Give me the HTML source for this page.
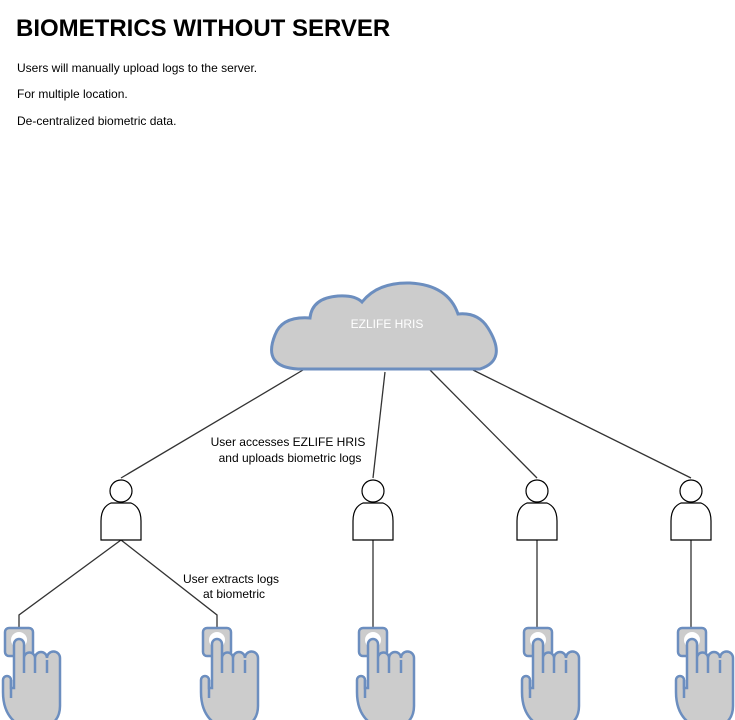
<!DOCTYPE html>
<html><head><style>
body{margin:0;width:735px;height:720px;overflow:hidden;background:#fff;font-family:"Liberation Sans",Arial,sans-serif;position:relative}
.t{position:absolute;left:17px;font-size:12px;color:#000}
</style></head><body>
<div style="position:absolute;left:16px;top:15px;font-size:24px;font-weight:bold">BIOMETRICS WITHOUT SERVER</div>
<div class="t" style="top:61px">Users will manually upload logs to the server.</div>
<div class="t" style="top:87px">For multiple location.</div>
<div class="t" style="top:114px">De-centralized biometric data.</div>
<svg width="735" height="720" style="position:absolute;left:0;top:0" font-family="Liberation Sans,Arial,sans-serif">
<defs>
<g id="hand">
<rect x="-14" y="0" width="28" height="28" rx="4" fill="#ccc" stroke="#6c8ebf" stroke-width="2.5"/>
<circle cx="0" cy="12" r="8" fill="#fff"/>
<path d="M-5,16 a5,5 0 0 1 10,0 V30 a5.5,5.5 0 0 1 11,0 a6,6 0 0 1 12,0 a6.5,6.5 0 0 1 13,0 V78 q0,10 -6,16 H-4 Q-16,84 -16,64 V52 a4,4 0 0 1 8,0 V60 H-5 Z" fill="#ccc" stroke="#6c8ebf" stroke-width="2.5"/>
<path d="M-8,52 V70 M5,30 V45 M16,30 V45 M28,32 V45" stroke="#6c8ebf" stroke-width="2.5"/>
</g>
<g id="person">
<circle cx="0" cy="0" r="11" fill="#fff" stroke="#000" stroke-width="1.2"/>
<path d="M-10,12 H10 Q20,16 20,30 V49 H-20 V30 Q-20,16 -10,12 Z" fill="#fff" stroke="#000" stroke-width="1.2"/>
</g>
</defs>
<g stroke="#333" stroke-width="1.3" fill="none">
<line x1="303" y1="370" x2="121" y2="478"/>
<line x1="385" y1="372" x2="373" y2="478"/>
<line x1="430" y1="370" x2="537" y2="478"/>
<line x1="473" y1="370" x2="691" y2="478"/>
<polyline points="121,540 19,615 19,628"/>
<polyline points="121,540 217,615 217,628"/>
<line x1="373" y1="540" x2="373" y2="628"/>
<line x1="537" y1="540" x2="537" y2="628"/>
<line x1="691" y1="540" x2="691" y2="628"/>
</g>
<path d="M298,369 Q262,367 275,335 Q282,316 310,318 Q312,298 338,296 Q355,295 362,302 Q378,282 410,283 Q448,285 458,314 Q478,312 488,328 Q508,360 480,369 Z" fill="#ccc" stroke="#6c8ebf" stroke-width="3"/>
<text x="387" y="328" fill="#fff" font-size="12" text-anchor="middle">EZLIFE HRIS</text>
<rect x="212" y="433" width="150" height="32" fill="#fff"/>
<text x="288" y="446" font-size="12" text-anchor="middle">User accesses EZLIFE HRIS</text>
<text x="290" y="462" font-size="12" text-anchor="middle">and uploads biometric logs</text>
<text x="231" y="583" font-size="12" text-anchor="middle">User extracts logs</text>
<text x="234" y="598" font-size="12" text-anchor="middle">at biometric</text>
<use href="#person" x="121" y="491"/>
<use href="#person" x="373" y="491"/>
<use href="#person" x="537" y="491"/>
<use href="#person" x="691" y="491"/>
<use href="#hand" x="19" y="628"/>
<use href="#hand" x="217" y="628"/>
<use href="#hand" x="373" y="628"/>
<use href="#hand" x="538" y="628"/>
<use href="#hand" x="692" y="628"/>
</svg>
</body></html>
